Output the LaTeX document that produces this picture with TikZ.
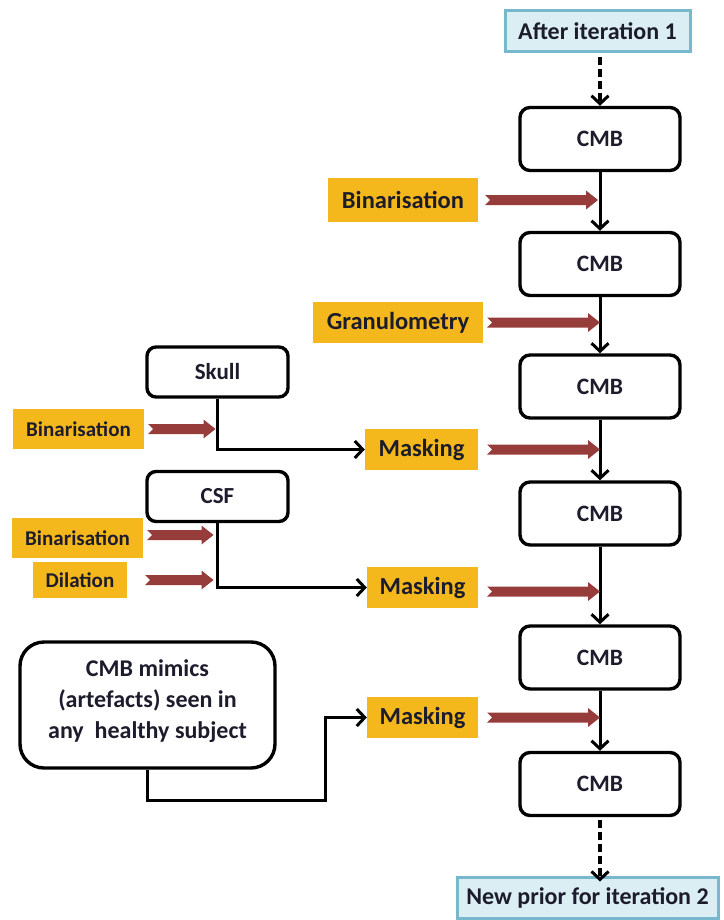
\documentclass[tikz,border=0pt]{standalone}
\usepackage{fontspec}
\setmainfont{Carlito}
\usetikzlibrary{positioning,arrows.meta,calc}
\definecolor{stepyellow}{HTML}{F4B81C}
\definecolor{arrowred}{HTML}{963C3A}
\definecolor{iterfill}{HTML}{DBEEF3}
\definecolor{iterline}{HTML}{78B8CC}
\definecolor{textdark}{HTML}{1C1C2C}

\begin{document}
\begin{tikzpicture}[x=1pt, y=-1pt,
  every node/.style={font=\bfseries, text=textdark},
  cmbbox/.style={draw, line width=3.4pt, rounded corners=10pt, minimum width=160pt, minimum height=63pt, font=\fontsize{23.5}{25}\selectfont\bfseries},
  inbox/.style={draw, line width=3.4pt, rounded corners=9pt, minimum width=141pt, minimum height=50pt, font=\fontsize{23}{25}\selectfont\bfseries},
  opbox/.style={fill=stepyellow, minimum height=41pt, inner sep=0pt, font=\fontsize{24.5}{26}\selectfont\bfseries},
  smallop/.style={fill=stepyellow, minimum height=40pt, inner sep=0pt, font=\fontsize{21}{23}\selectfont\bfseries},
  iterbox/.style={draw=iterline, fill=iterfill, line width=3pt, minimum height=41pt, inner sep=0pt, font=\fontsize{24}{26}\selectfont\bfseries},
  flow/.style={line width=3pt, -{Straight Barb[length=8pt,width=17pt,line width=3pt]}},
  dflow/.style={flow, line width=3.4pt, dash pattern=on 8pt off 4pt},
  fat/.style={fill=arrowred, to path={
    ($(\tikztostart)+(0,-5)$) -- ($(\tikztotarget)+(-12,-5)$) -- ($(\tikztotarget)+(-12,-9.5)$) --
    (\tikztotarget) -- ($(\tikztotarget)+(-12,9.5)$) -- ($(\tikztotarget)+(-12,5)$) --
    ($(\tikztostart)+(0,5)$) -- ($(\tikztostart)+(5,0)$) -- cycle}}
]
\useasboundingbox (0,0) rectangle (723,920);

% main column
\node[iterbox, minimum width=185pt] (iter1) at (597.5,31) {After iteration 1};
\node[cmbbox] (cmb1) at (600,139) {CMB};
\node[cmbbox] (cmb2) at (600,264) {CMB};
\node[cmbbox] (cmb3) at (600,386.5) {CMB};
\node[cmbbox] (cmb4) at (600,513.5) {CMB};
\node[cmbbox] (cmb5) at (600,657.5) {CMB};
\node[cmbbox] (cmb6) at (600,784) {CMB};
\node[iterbox, minimum width=261pt] (prior) at (587.5,897.5) {New prior for iteration 2};

% operations
\node[opbox, minimum width=150pt, minimum height=44pt] (bin1) at (403,200) {Binarisation};
\node[opbox, minimum width=170pt] (gran) at (398,322.5) {Granulometry};
\node[opbox, minimum width=113pt] (mask1) at (421.5,449.5) {Masking};
\node[opbox, minimum width=111pt] (mask2) at (422.5,587.5) {Masking};
\node[opbox, minimum width=111pt] (mask3) at (422.5,717.5) {Masking};

% left inputs
\node[inbox] (skull) at (217.5,372) {Skull};
\node[inbox] (csf) at (217.5,496.5) {CSF};
\node[smallop, minimum width=131pt] (binS) at (78.5,429) {Binarisation};
\node[smallop, minimum width=131pt] (binC) at (77.5,538) {Binarisation};
\node[smallop, minimum width=94pt, minimum height=36pt] (dil) at (80,580) {Dilation};
\node[draw, line width=3.4pt, rounded corners=24pt, minimum width=255pt, minimum height=126pt, align=center,
  font=\fontsize{24}{31}\selectfont\bfseries] (mimics) at (147.5,705) {CMB mimics\\(artefacts) seen in\\any~ healthy subject\\[-19pt]};
\coordinate (bend) at (325,800);

% connectors
\draw[dflow] (iter1.south -| cmb1.north) ++(0,4) -- (cmb1.north);
\foreach \a/\b in {cmb1/cmb2, cmb2/cmb3, cmb3/cmb4, cmb4/cmb5, cmb5/cmb6}
  \draw[flow] (\a.south) -- (\b.north);
\draw[dflow] (cmb6.south) ++(0,3) -- ([yshift=-6pt]prior.north -| cmb6.south);
\draw[flow] (skull.south) |- (mask1.west);
\draw[flow] (csf.south) |- (mask2.west);
\draw[flow] (mimics.south) |- (bend) |- (mask3.west);

% red arrows
\path[fat] ([xshift=7pt]bin1.east) to ([xshift=-2pt]bin1.east -| cmb1.south);
\path[fat] ([xshift=4pt]gran.east) to (gran.east -| cmb2.south);
\path[fat] ([xshift=9pt]mask1.east) to (mask1.east -| cmb3.south);
\path[fat] ([xshift=9pt,yshift=-4pt]mask2.east) to ([yshift=-4pt]mask2.east -| cmb4.south);
\path[fat] ([xshift=9pt]mask3.east) to (mask3.east -| cmb5.south);
\path[fat] ([xshift=4pt]binS.east) to ([xshift=-2pt]binS.east -| skull.south);
\path[fat] ([xshift=4pt,yshift=3pt]binC.east) to ([xshift=-4pt,yshift=3pt]binC.east -| csf.south);
\path[fat] ([xshift=18pt]dil.east) to ([xshift=-4pt]dil.east -| csf.south);
\end{tikzpicture}
\end{document}
